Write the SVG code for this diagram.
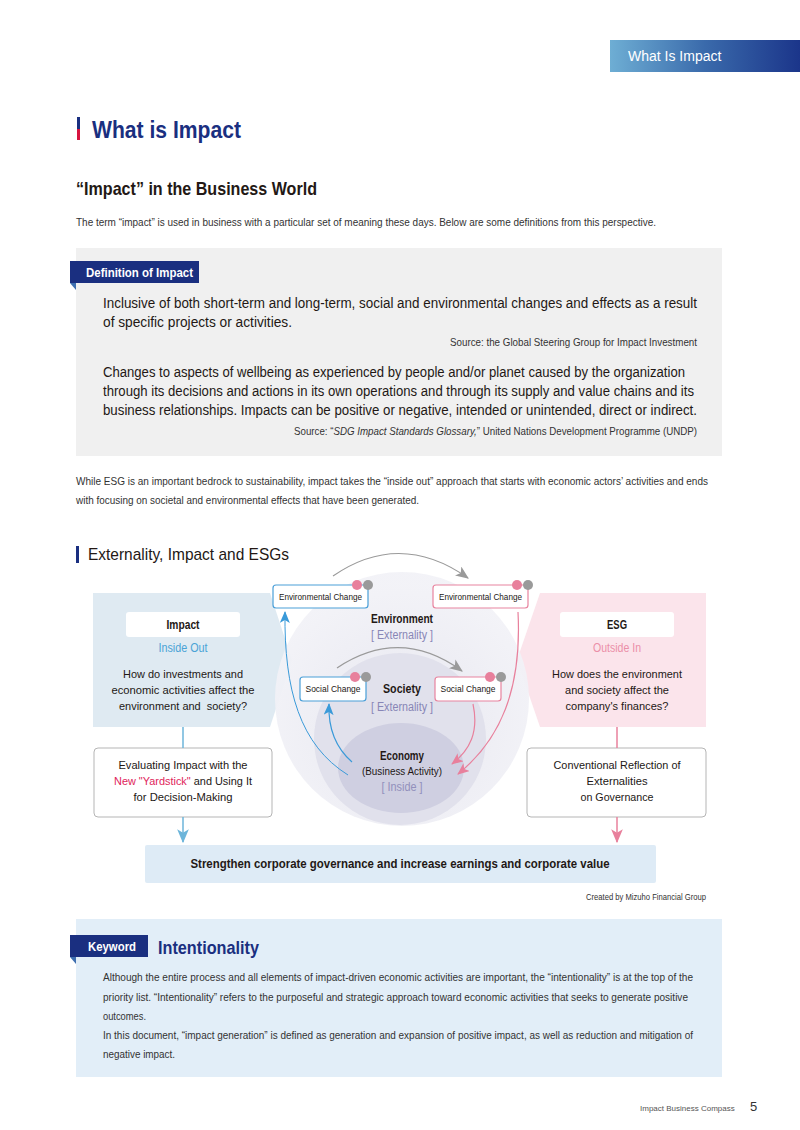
<svg xmlns="http://www.w3.org/2000/svg" width="800" height="1130" viewBox="0 0 800 1130">
<defs>
<linearGradient id="hdr" x1="0" y1="0" x2="1" y2="0">
<stop offset="0" stop-color="#6eaed4"/>
<stop offset="0.5" stop-color="#3a6aab"/>
<stop offset="1" stop-color="#1b358a"/>
</linearGradient>
<radialGradient id="outerG" cx="0.5" cy="0.6" r="0.55">
<stop offset="0" stop-color="#e6e6ef"/>
<stop offset="1" stop-color="#f2f2f7"/>
</radialGradient>
<marker id="ab" viewBox="0 0 12 10" refX="11" refY="5" markerWidth="12" markerHeight="10" markerUnits="userSpaceOnUse" orient="auto"><path d="M0,0 L12,5 L0,10 L3,5 z" fill="#3a9ad9"/></marker>
<marker id="ap" viewBox="0 0 12 10" refX="11" refY="5" markerWidth="12" markerHeight="10" markerUnits="userSpaceOnUse" orient="auto"><path d="M0,0 L12,5 L0,10 L3,5 z" fill="#e8809c"/></marker>
<marker id="ag" viewBox="0 0 12 10" refX="11" refY="5" markerWidth="14" markerHeight="11" markerUnits="userSpaceOnUse" orient="auto"><path d="M0,0 L12,5 L0,10 L3,5 z" fill="#9a9a9a"/></marker>
<marker id="alb" viewBox="0 0 12 10" refX="11" refY="5" markerWidth="14" markerHeight="12" markerUnits="userSpaceOnUse" orient="auto"><path d="M0,0 L12,5 L0,10 L3,5 z" fill="#6cb5da"/></marker>
<marker id="alp" viewBox="0 0 12 10" refX="11" refY="5" markerWidth="14" markerHeight="12" markerUnits="userSpaceOnUse" orient="auto"><path d="M0,0 L12,5 L0,10 L3,5 z" fill="#e8809c"/></marker>
</defs>
<style>
text{font-family:"Liberation Sans",Arial,sans-serif;fill:#231815}
.b{font-weight:bold}
.body{font-size:11.5px;fill:#333}
.def{font-size:14px;fill:#231815}
.src{font-size:10.5px;fill:#333}
.lbl{font-size:12px}
.small{font-size:9.5px}
.q{font-size:11.5px;text-anchor:middle;white-space:pre}
.c{text-anchor:middle}
.r{text-anchor:end}
.ext{fill:#8886b6}
.chb{fill:#fff;stroke:#4a9fd8;stroke-width:1.2}
.chp{fill:#fff;stroke:#e8849f;stroke-width:1.2}
.dp{fill:#e8809c}
.dg{fill:#9a9a9a}
.box{fill:#fff;stroke:#b5b5b5;stroke-width:1}
</style>

<!-- header -->
<g id="header">
<rect x="610" y="40" width="190" height="32" fill="url(#hdr)"/>
<text x="628" y="61" style="font-size:14px;fill:#fff">What Is Impact</text>
</g>

<g id="title">
<rect x="77" y="117" width="3" height="12" fill="#1a2f80"/>
<rect x="77" y="129" width="3" height="11" fill="#d7143f"/>
<text x="92" y="138" class="b" style="font-size:24px;fill:#1a2f80" textLength="149" lengthAdjust="spacingAndGlyphs">What is Impact</text>
<text x="76" y="195" class="b" style="font-size:18.5px" textLength="241" lengthAdjust="spacingAndGlyphs">“Impact” in the Business World</text>
<text x="76" y="226" class="body" textLength="580" lengthAdjust="spacingAndGlyphs">The term “impact” is used in business with a particular set of meaning these days. Below are some definitions from this perspective.</text>
</g>

<!-- definition box -->
<g id="definition">
<rect x="76" y="248" width="646" height="208" fill="#f0f0f0"/>
<rect x="70" y="261" width="129" height="22" fill="#1a2f80"/>
<path d="M70,283 L76,283 L76,290 z" fill="#3e6fb0"/>
<text x="86" y="277" class="b" style="font-size:12.5px;fill:#fff" textLength="107" lengthAdjust="spacingAndGlyphs">Definition of Impact</text>
<text x="103" y="308" class="def" textLength="594" lengthAdjust="spacingAndGlyphs">Inclusive of both short-term and long-term, social and environmental changes and effects as a result</text>
<text x="103" y="327" class="def" textLength="189" lengthAdjust="spacingAndGlyphs">of specific projects or activities.</text>
<text x="697" y="346" class="src r" textLength="247" lengthAdjust="spacingAndGlyphs">Source: the Global Steering Group for Impact Investment</text>
<text x="103" y="377" class="def" textLength="582" lengthAdjust="spacingAndGlyphs">Changes to aspects of wellbeing as experienced by people and/or planet caused by the organization</text>
<text x="103" y="396" class="def" textLength="591" lengthAdjust="spacingAndGlyphs">through its decisions and actions in its own operations and through its supply and value chains and its</text>
<text x="103" y="415" class="def" textLength="594" lengthAdjust="spacingAndGlyphs">business relationships. Impacts can be positive or negative, intended or unintended, direct or indirect.</text>
<text x="697" y="435" class="src r" textLength="403" lengthAdjust="spacingAndGlyphs">Source: “<tspan style="font-style:italic">SDG Impact Standards Glossary,</tspan>” United Nations Development Programme (UNDP)</text>
</g>

<g id="esg-para">
<text x="76" y="485" class="body" textLength="632" lengthAdjust="spacingAndGlyphs">While ESG is an important bedrock to sustainability, impact takes the “inside out” approach that starts with economic actors’ activities and ends</text>
<text x="76" y="504" class="body" textLength="343" lengthAdjust="spacingAndGlyphs">with focusing on societal and environmental effects that have been generated.</text>
</g>

<g id="section2">
<rect x="76" y="546" width="3" height="17" fill="#1a2f80"/>
<text x="88" y="560" style="font-size:17px" textLength="201" lengthAdjust="spacingAndGlyphs">Externality, Impact and ESGs</text>
</g>

<!-- panels -->
<g id="impact-panel">
<path d="M93,593 L270,593 L292,660 L270,727 L93,727 z" fill="#dfeaf2"/>
<rect x="126" y="612" width="114" height="25" rx="3" fill="#fff"/>
<text x="183" y="629" class="lbl b c" textLength="33" lengthAdjust="spacingAndGlyphs">Impact</text>
<text x="183" y="652" class="lbl c" style="fill:#4aa3d6" textLength="49" lengthAdjust="spacingAndGlyphs">Inside Out</text>
<text x="183" y="678" class="q" textLength="120" lengthAdjust="spacingAndGlyphs">How do investments and</text>
<text x="183" y="694" class="q" textLength="143" lengthAdjust="spacingAndGlyphs">economic activities affect the</text>
<text x="183" y="710" class="q" textLength="128" lengthAdjust="spacingAndGlyphs">environment and  society?</text>
</g>
<g id="esg-panel">
<path d="M540,593 L706,593 L706,727 L540,727 L517,660 z" fill="#fbe4eb"/>
<rect x="560" y="612" width="114" height="25" rx="3" fill="#fff"/>
<text x="617" y="629" class="lbl b c" textLength="20" lengthAdjust="spacingAndGlyphs">ESG</text>
<text x="617" y="652" class="lbl c" style="fill:#eb8fa8" textLength="48" lengthAdjust="spacingAndGlyphs">Outside In</text>
<text x="617" y="678" class="q" textLength="130" lengthAdjust="spacingAndGlyphs">How does the environment</text>
<text x="617" y="694" class="q" textLength="104" lengthAdjust="spacingAndGlyphs">and society affect the</text>
<text x="617" y="710" class="q" textLength="103" lengthAdjust="spacingAndGlyphs">company's finances?</text>
</g>

<!-- circles -->
<g id="environment">
<circle cx="402" cy="699" r="127" fill="url(#outerG)" opacity="0.95"/>
<text x="402" y="623" class="lbl b c" textLength="62" lengthAdjust="spacingAndGlyphs">Environment</text>
<text x="402" y="639" class="lbl c ext" textLength="62" lengthAdjust="spacingAndGlyphs">[ Externality ]</text>
</g>
<g id="society">
<circle cx="400" cy="739" r="86" fill="#e1e1ec"/>
<text x="402" y="693" class="b c" style="font-size:13px" textLength="38" lengthAdjust="spacingAndGlyphs">Society</text>
<text x="402" y="711" class="lbl c ext" textLength="62" lengthAdjust="spacingAndGlyphs">[ Externality ]</text>
</g>
<g id="economy">
<ellipse cx="401" cy="768" rx="63" ry="45" fill="#cfcfe1"/>
<text x="402" y="760" class="lbl b c" textLength="44" lengthAdjust="spacingAndGlyphs">Economy</text>
<text x="402" y="775" class="c" style="font-size:11px" textLength="80" lengthAdjust="spacingAndGlyphs">(Business Activity)</text>
<text x="402" y="791" class="lbl c ext" style="opacity:0.85" textLength="41" lengthAdjust="spacingAndGlyphs">[ Inside ]</text>
</g>

<!-- change boxes -->
<g id="env-change-left">
<rect x="273" y="585" width="95" height="23" rx="3" class="chb"/>
<text x="320.5" y="600" class="small c" textLength="83" lengthAdjust="spacingAndGlyphs">Environmental Change</text>
<circle cx="357" cy="585" r="5" class="dp"/><circle cx="368" cy="585" r="5" class="dg"/>
</g>
<g id="env-change-right">
<rect x="433" y="585" width="95" height="23" rx="3" class="chp"/>
<text x="480.5" y="600" class="small c" textLength="83" lengthAdjust="spacingAndGlyphs">Environmental Change</text>
<circle cx="517" cy="585" r="5" class="dp"/><circle cx="528" cy="585" r="5" class="dg"/>
</g>
<g id="soc-change-left">
<rect x="300" y="677" width="66" height="24" rx="3" class="chb"/>
<text x="333" y="692" class="small c" textLength="55" lengthAdjust="spacingAndGlyphs">Social Change</text>
<circle cx="355" cy="677" r="5" class="dp"/><circle cx="366" cy="677" r="5" class="dg"/>
</g>
<g id="soc-change-right">
<rect x="435" y="677" width="66" height="24" rx="3" class="chp"/>
<text x="468" y="692" class="small c" textLength="55" lengthAdjust="spacingAndGlyphs">Social Change</text>
<circle cx="490" cy="677" r="5" class="dp"/><circle cx="501" cy="677" r="5" class="dg"/>
</g>

<!-- bottom boxes -->
<g id="eval-box">
<rect x="94" y="748" width="178" height="69" rx="4" class="box"/>
<text x="183" y="769" class="q" textLength="129" lengthAdjust="spacingAndGlyphs">Evaluating Impact with the</text>
<text x="183" y="785" class="q" textLength="138" lengthAdjust="spacingAndGlyphs"><tspan style="fill:#e0245a">New "Yardstick"</tspan> and Using It</text>
<text x="183" y="801" class="q" textLength="99" lengthAdjust="spacingAndGlyphs">for Decision-Making</text>
</g>
<g id="conv-box">
<rect x="527" y="748" width="179" height="69" rx="4" class="box"/>
<text x="617" y="769" class="q" textLength="127" lengthAdjust="spacingAndGlyphs">Conventional Reflection of</text>
<text x="617" y="785" class="q" textLength="61" lengthAdjust="spacingAndGlyphs">Externalities</text>
<text x="617" y="801" class="q" textLength="73" lengthAdjust="spacingAndGlyphs">on Governance</text>
</g>
<g id="result-bar">
<rect x="145" y="845" width="511" height="38" rx="2" fill="#deebf6"/>
<text x="400" y="868" class="b c" style="font-size:12.5px" textLength="419" lengthAdjust="spacingAndGlyphs">Strengthen corporate governance and increase earnings and corporate value</text>
</g>
<text x="706" y="900" class="r" style="font-size:9.5px;fill:#333" textLength="120" lengthAdjust="spacingAndGlyphs">Created by Mizuho Financial Group</text>

<!-- connectors -->
<g id="connectors" fill="none">
<path d="M333,576 Q400,530 468,578" stroke="#9a9a9a" stroke-width="1.2" marker-end="url(#ag)"/>
<path d="M337,668 Q400,626 462,671" stroke="#9a9a9a" stroke-width="1.2" marker-end="url(#ag)"/>
<path d="M348,775 C300,745 284,690 285,612" stroke="#3a9ad9" stroke-width="1" marker-end="url(#ab)"/>
<path d="M352,762 C336,748 328,730 329,704" stroke="#3a9ad9" stroke-width="1.2" marker-end="url(#ab)"/>
<path d="M518,612 C522,690 500,740 458,774" stroke="#e8809c" stroke-width="1.2" marker-end="url(#ap)"/>
<path d="M473,704 C479,732 470,750 452,764" stroke="#e8809c" stroke-width="1.2" marker-end="url(#ap)"/>
<path d="M183,727 L183,748" stroke="#6cb5da" stroke-width="1.5"/>
<path d="M183,817 L183,842" stroke="#6cb5da" stroke-width="1.5" marker-end="url(#alb)"/>
<path d="M617,727 L617,748" stroke="#e8809c" stroke-width="1.5"/>
<path d="M617,817 L617,842" stroke="#e8809c" stroke-width="1.5" marker-end="url(#alp)"/>
</g>

<!-- keyword -->
<g id="keyword">
<rect x="76" y="919" width="646" height="158" fill="#e2eef8"/>
<rect x="70" y="935" width="78" height="22" fill="#1a2f80"/>
<path d="M70,957 L76,957 L76,964 z" fill="#3e6fb0"/>
<text x="88" y="951" class="b" style="font-size:12.5px;fill:#fff" textLength="48" lengthAdjust="spacingAndGlyphs">Keyword</text>
<text x="158" y="954" class="b" style="font-size:18.5px;fill:#1a2f80" textLength="101" lengthAdjust="spacingAndGlyphs">Intentionality</text>
<text x="103" y="981" class="body" textLength="590" lengthAdjust="spacingAndGlyphs">Although the entire process and all elements of impact-driven economic activities are important, the “intentionality” is at the top of the</text>
<text x="103" y="1001" class="body" textLength="585" lengthAdjust="spacingAndGlyphs">priority list. “Intentionality” refers to the purposeful and strategic approach toward economic activities that seeks to generate positive</text>
<text x="103" y="1020" class="body" textLength="43" lengthAdjust="spacingAndGlyphs">outcomes.</text>
<text x="103" y="1039" class="body" textLength="590" lengthAdjust="spacingAndGlyphs">In this document, “impact generation” is defined as generation and expansion of positive impact, as well as reduction and mitigation of</text>
<text x="103" y="1058" class="body" textLength="72" lengthAdjust="spacingAndGlyphs">negative impact.</text>
</g>

<g id="footer">
<text x="640" y="1111" style="font-size:8px;fill:#555">Impact Business Compass</text>
<text x="750" y="1111" style="font-size:13px;fill:#333">5</text>
</g>
</svg>
